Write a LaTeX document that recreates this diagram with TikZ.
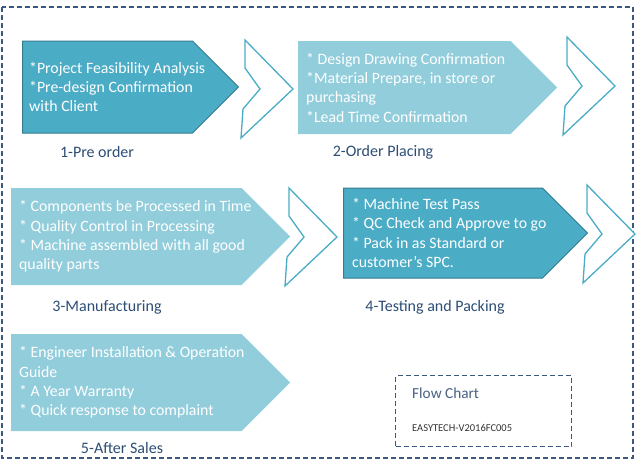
\documentclass[tikz,border=0pt]{standalone}
\usepackage{fontspec}
\setmainfont{Carlito}
\usetikzlibrary{shapes.symbols,positioning}
\definecolor{darkteal}{HTML}{4BACC6}
\definecolor{tealedge}{HTML}{357D91}
\definecolor{lightteal}{HTML}{92CDDC}
\definecolor{navy}{HTML}{2C4D75}
\definecolor{frame}{HTML}{3A5A82}

\begin{document}
\begin{tikzpicture}[x=1pt, y=-1pt, node distance=8pt]
			\tikzstyle{stage} = [shape=signal, signal to=east, signal pointer angle=90, inner sep=0pt, anchor=west]
			\tikzstyle{dark} = [stage, fill=darkteal, draw=tealedge, line width=1pt]
			\tikzstyle{light} = [stage, fill=lightteal]
			\tikzstyle{items} = [text=white, align=left, inner sep=0pt, font=\fontsize{15.8}{19.3}\selectfont]
			\tikzstyle{lbl} = [text=navy, inner sep=0pt, font=\fontsize{16}{18}\selectfont]
			\tikzset{chevron/.pic={\draw[darkteal, line width=1.3pt, fill=white] (0,0) -- (0,28) -- (15,49) -- (-2,69) -- (-4,98) -- (48,49) -- cycle;}}

			\useasboundingbox (0,0) rectangle (639,466);
			\draw[frame, line width=1.6pt, dash pattern=on 5pt off 3pt] (2,7) rectangle (633,458);

			% stages
			\node[dark, minimum width=216pt, minimum height=92pt] (b1) at (22,87) {};
			\node[light, minimum width=259pt, minimum height=93pt] (b2) at (298,87.5) {};
			\node[light, minimum width=279pt, minimum height=97pt] (b3) at (11,236.5) {};
			\node[dark, minimum width=244pt, minimum height=90pt] (b4) at (343,233) {};
			\node[light, minimum width=279pt, minimum height=97pt] (b5) at (11,382.5) {};

			\node[items, right=7pt of b1.west] (t1) {*Project Feasibility Analysis\\*Pre-design Confirmation\\with Client};
			\node[items, right=8pt of b2.west] (t2) {* Design Drawing Confirmation\\*Material Prepare, in store or\\purchasing\\*Lead Time Confirmation};
			\node[items, right=8pt of b3.west] (t3) {* Components be Processed in Time\\* Quality Control in Processing\\* Machine assembled with all good\\quality parts};
			\node[items, right=9pt of b4.west] (t4) {* Machine Test Pass\\* QC Check and Approve to go\\* Pack in as Standard or\\customer’s SPC.};
			\node[items, right=8pt of b5.west] (t5) {* Engineer Installation \& Operation\\Guide\\* A Year Warranty\\* Quick response to complaint};

			% arrows between stages
			\pic at (245,40) {chevron};
			\pic at (567,37) {chevron};
			\pic at (289,188) {chevron};
			\pic at (587,185) {chevron};

			% captions
			\node[lbl] (l1) at (97,152) {1-Pre order};
			\node[lbl] (l2) at (383,152) {2-Order Placing};
			\node[lbl] (l3) at (107,307) {3-Manufacturing};
			\node[lbl] (l4) at (435,307) {4-Testing and Packing};
			\node[lbl] (l5) at (122,448) {5-After Sales};

			% chart tag
			\node[draw=frame, line width=1.4pt, dash pattern=on 5pt off 3pt, minimum width=176pt, minimum height=71pt, anchor=north west] (tag) at (395,375) {};
			\node[lbl, anchor=west, text=frame!80!gray, font=\fontsize{15.3}{17}\selectfont] (title) at (412,393) {Flow Chart};
			\node[lbl, anchor=west, text=black!80, font=\fontsize{10.5}{12}\selectfont] (code) at (412,428) {EASYTECH-V2016FC005};
\end{tikzpicture}
\end{document}
